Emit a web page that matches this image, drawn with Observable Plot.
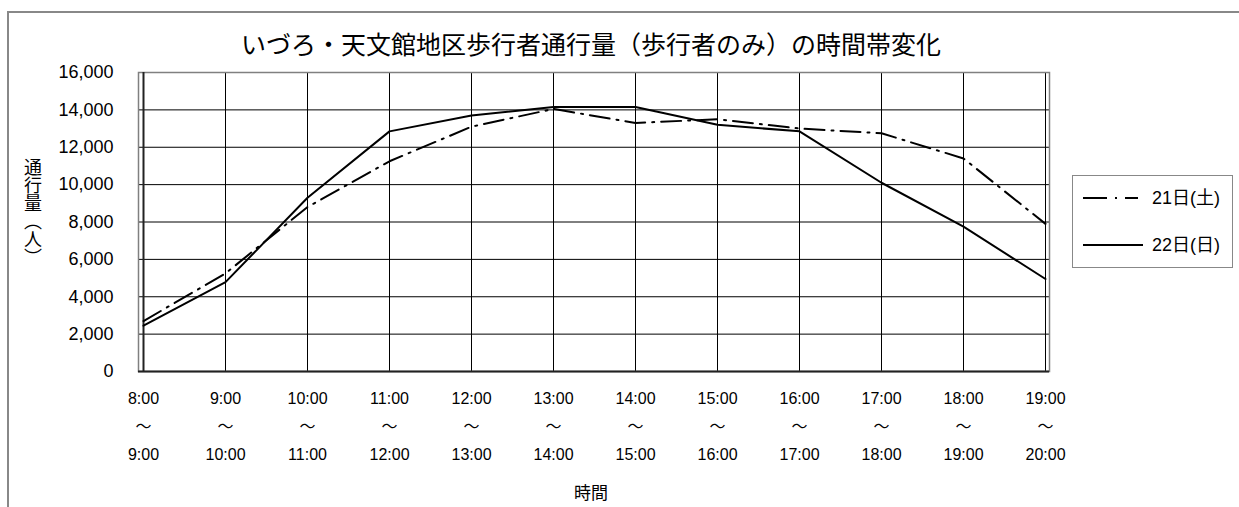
<!DOCTYPE html>
<html><head><meta charset="utf-8">
<script src="https://cdn.jsdelivr.net/npm/d3@7"></script>
<script src="https://cdn.jsdelivr.net/npm/@observablehq/plot@0.6"></script>
<style>
body{margin:0;background:#fff;}
#wrap{position:relative;width:1239px;height:507px;overflow:hidden;background:#fff;}
#border{position:absolute;left:7px;top:11px;width:1300px;height:600px;border:2px solid #888;box-sizing:border-box;}
#chart{position:absolute;left:0;top:0;}
#ylabel{position:absolute;left:23px;top:158px;writing-mode:vertical-rl;font-family:'Noto Sans CJK JP',sans-serif;font-size:18px;line-height:20px;color:#000;}
#legend{position:absolute;left:1072px;top:175px;width:161px;height:93px;border:1.5px solid #888;box-sizing:border-box;background:#fff;}
</style></head><body>
<div id="wrap"><div id="border"></div><div id="chart"></div><div id="ylabel"></div><div id="legend"></div></div>
<script>
const categories = ["8:00","9:00","10:00","11:00","12:00","13:00","14:00","15:00","16:00","17:00","18:00","19:00"];
const endTimes   = ["9:00","10:00","11:00","12:00","13:00","14:00","15:00","16:00","17:00","18:00","19:00","20:00"];
const seriesNames = ["21日(土)","22日(日)"];
const sat = [2700,5250,8800,11250,13100,14050,13300,13500,13000,12750,11400,7900];
const sun = [2450,4780,9300,12850,13700,14150,14150,13200,12850,10100,7750,4950];
const yTicks = [0,2000,4000,6000,8000,10000,12000,14000,16000];
const titleText = "いづろ・天文館地区歩行者通行量（歩行者のみ）の時間帯変化";
const yLabel = "通行量（人）";
const xLabel = "時間";
const dashes = ["20,7,2,7", null];

const data = [];
categories.forEach((c,i)=>{
  data.push({time:c, value:sat[i], series:seriesNames[0]});
  data.push({time:c, value:sun[i], series:seriesNames[1]});
});

const fontLatin = "'Liberation Sans', Arial, 'Noto Sans CJK JP', sans-serif";
const fontCJK = "'Noto Sans CJK JP', sans-serif";

const chart = Plot.plot({
  width:1239, height:507,
  marginLeft:138, marginRight:190, marginTop:72, marginBottom:136,
  style:{fontFamily:fontLatin, background:"transparent", color:"#000", overflow:"visible"},
  x:{type:"point", domain:categories, padding:0, label:null},
  y:{domain:[0,16000], label:null},
  marks:[
    Plot.gridY(yTicks,{stroke:"#000", strokeOpacity:1, strokeWidth:1}),
    Plot.gridX(categories,{stroke:"#000", strokeOpacity:1, strokeWidth:1}),
    Plot.frame({stroke:"#808080", strokeWidth:1.5}),
    Plot.ruleY([0],{stroke:"#222", strokeWidth:2}),
    Plot.ruleX([categories[0]],{stroke:"#222", strokeWidth:2}),
    Plot.axisY(yTicks,{tickSize:0, tickPadding:25, fontSize:18, fill:"#000", tickFormat:d3.format(",")}),
    Plot.axisX(categories,{tickSize:0, tickPadding:13, fontSize:16, fill:"#000", lineHeight:1.75,
      tickFormat:d=>`${d}\n～\n${endTimes[categories.indexOf(d)]}`}),
    Plot.line(data.filter(d=>d.series===seriesNames[0]),{x:"time", y:"value", stroke:"#000", strokeWidth:2, strokeDasharray:dashes[0]}),
    Plot.line(data.filter(d=>d.series===seriesNames[1]),{x:"time", y:"value", stroke:"#000", strokeWidth:2}),
    Plot.text([titleText],{frameAnchor:"top", lineAnchor:"middle", dy:-27, dx:-3, fontSize:25, fontFamily:fontCJK, fill:"#000"}),
    Plot.text([xLabel],{frameAnchor:"bottom", lineAnchor:"middle", dy:122, dx:-3, fontSize:17, fontFamily:fontCJK, fill:"#000"})
  ]
});
document.getElementById("chart").appendChild(chart);
document.getElementById("ylabel").textContent = yLabel;

// legend
const lg = d3.select("#legend").append("svg").attr("width",158).attr("height",90)
  .style("position","absolute").style("left","0").style("top","0");
seriesNames.forEach((name,i)=>{
  const y = 22 + i*47;
  lg.append("line").attr("x1",10).attr("x2",i===0?65:70).attr("y1",y).attr("y2",y)
    .attr("stroke","#000").attr("stroke-width",2).attr("stroke-dasharray",i===0?"24,8,2,8":null);
  lg.append("text").attr("x",79).attr("y",y).attr("dy","0.35em")
    .attr("font-size",18).attr("font-family",fontLatin).text(name);
});
</script>
</body></html>
